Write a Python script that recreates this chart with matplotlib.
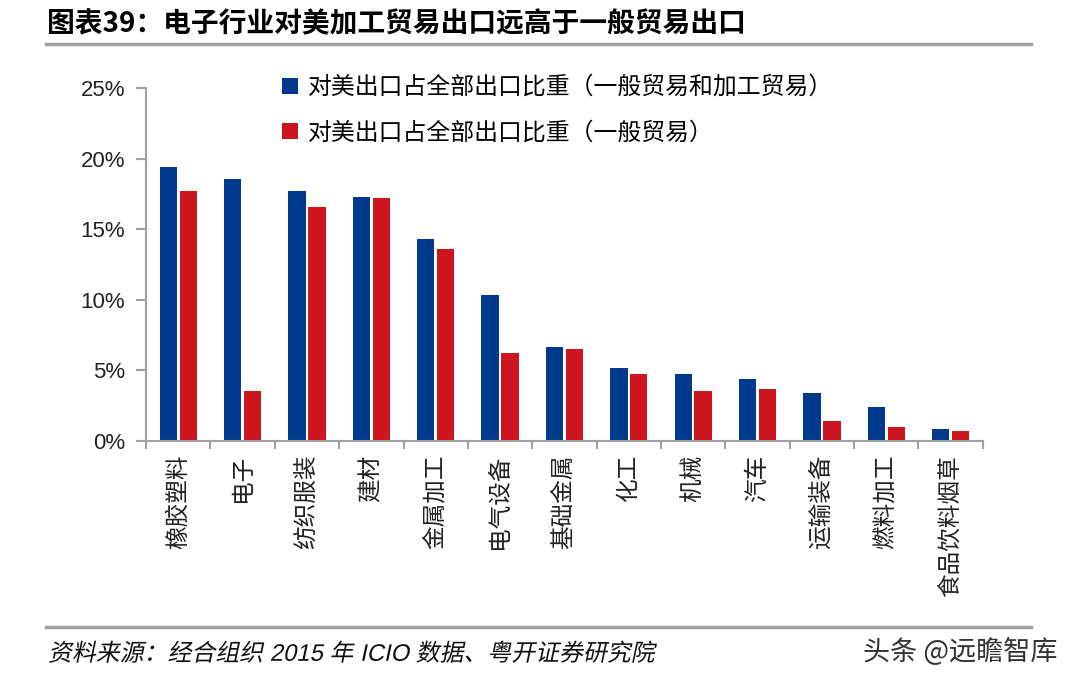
import matplotlib.pyplot as plt
import numpy as np
from matplotlib.lines import Line2D
from matplotlib.patches import Patch, PathPatch
from matplotlib.textpath import TextPath
from matplotlib.font_manager import FontProperties
from matplotlib.transforms import Affine2D

plt.rcParams['font.family'] = ['Liberation Sans', 'Noto Sans CJK SC', 'DejaVu Sans']

# ---------------------------------------------------------
# Data
# ---------------------------------------------------------
categories = ["橡胶塑料", "电子", "纺织服装", "建材", "金属加工", "电气设备", "基础金属",
              "化工", "机械", "汽车", "运输装备", "燃料加工", "食品饮料烟草"]
share_all = [19.4, 18.6, 17.75, 17.3, 14.3, 10.35, 6.7, 5.15, 4.72, 4.43, 3.43, 2.44, 0.88]
share_general = [17.75, 3.57, 16.6, 17.2, 13.6, 6.26, 6.55, 4.72, 3.57, 3.72, 1.45, 1.02, 0.74]
legend_labels = ["对美出口占全部出口比重（一般贸易和加工贸易）", "对美出口占全部出口比重（一般贸易）"]
y_ticks = [0, 5, 10, 15, 20, 25]

blue = "#003A8C"
red = "#CD1520"
axis_gray = "#A0A0A0"

fig = plt.figure(figsize=(10.77, 6.87), dpi=100)
ax = fig.add_axes([0.1356, 0.358, 0.777, 0.5135])

x = np.arange(len(categories))
bw = 0.27
ax.bar(x - 0.155, share_all, bw, color=blue, label=legend_labels[0])
ax.bar(x + 0.155, share_general, bw, color=red, label=legend_labels[1])

ax.set_xlim(-0.5, len(categories) - 0.5)
ax.set_ylim(0, 25)

# spines
for s in ["top", "right"]:
    ax.spines[s].set_visible(False)
for s in ["left", "bottom"]:
    ax.spines[s].set_color(axis_gray)
    ax.spines[s].set_linewidth(1.5)

# y axis
ax.set_yticks(y_ticks)
ax.set_yticklabels([f"{v}%" for v in y_ticks], fontsize=16, color="#222222")
ax.tick_params(axis="y", length=7, width=1.5, color=axis_gray, direction="out", pad=8)

# x axis: ticks at category boundaries, rotated labels at centers
ax.set_xticks(np.arange(len(categories) + 1) - 0.5)
ax.set_xticklabels([])
ax.tick_params(axis="x", which="major", length=6, width=1.5, color=axis_gray, direction="out")
ax.set_xticks(x, minor=True)
ax.set_xticklabels(categories, minor=True, rotation=90, ha="center", va="top",
                   fontsize=17, color="#222222")
ax.tick_params(axis="x", which="minor", length=0, pad=10)

# legend
handles = [Patch(facecolor=blue, edgecolor="none"), Patch(facecolor=red, edgecolor="none")]
fig.legend(handles, legend_labels, loc="upper left", bbox_to_anchor=(0.262, 0.889),
           frameon=False, fontsize=17.2, handlelength=0.65, handleheight=0.65,
           handletextpad=0.42, labelspacing=0.95, borderpad=0, borderaxespad=0)

# title and rules
fig.text(0.044, 0.964, "图表39：电子行业对美加工贸易出口远高于一般贸易出口",
         fontsize=20, fontweight="bold", va="center", ha="left",
         family=["Noto Sans CJK SC", "DejaVu Sans"])
fig.add_artist(Line2D([0.043, 0.957], [0.936, 0.936], color="#A0A0A0", lw=2.5))
fig.add_artist(Line2D([0.043, 0.957], [0.087, 0.087], color="#A0A0A0", lw=2.5))

# footer source line, slanted like the reference's italic
src = "资料来源：经合组织 2015 年 ICIO 数据、粤开证券研究院"
fp = FontProperties(family=['Liberation Sans', 'Noto Sans CJK SC'])
tp = TextPath((0, 0), src, size=17.2, prop=fp)
tr = Affine2D().skew_deg(12, 0).scale(1 / 72).translate(0.48, 0.262) + fig.dpi_scale_trans
fig.add_artist(PathPatch(tp, transform=tr, facecolor="#111111", edgecolor="none"))

fig.text(0.982, 0.051, "头条 @远瞻智库", fontsize=19.5, va="center", ha="right",
         color="#333333", family=["Noto Sans CJK SC", "DejaVu Sans"])

fig.savefig("out.png", dpi=100)
